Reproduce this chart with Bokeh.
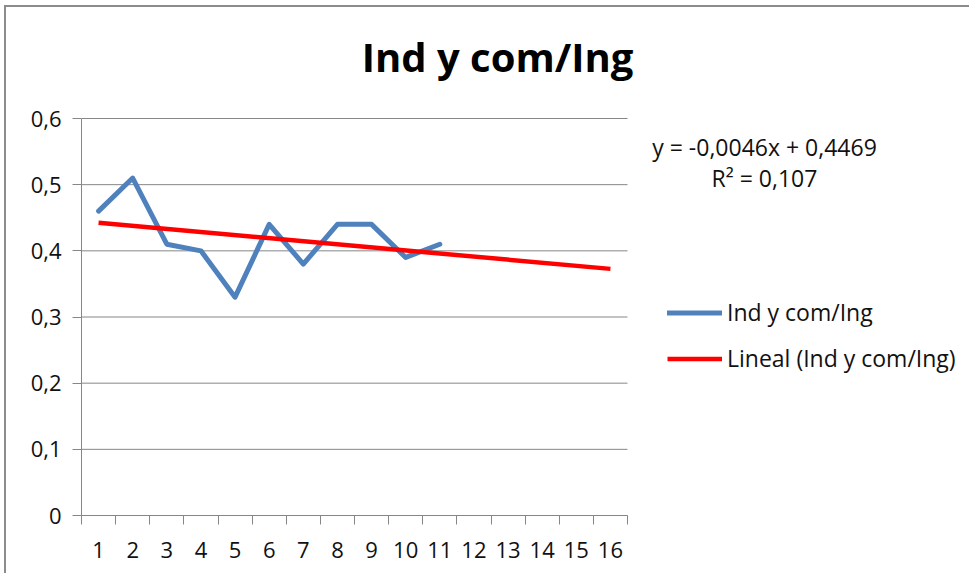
import numpy as np
from bokeh.plotting import figure
from bokeh.models import (FixedTicker, CustomJSTickFormatter, Label, Legend,
                          LegendItem, Range1d)
from bokeh.embed import file_html
from bokeh.resources import INLINE

# ---------------- data ----------------
title_text = "Ind y com/Ing"
series_name = "Ind y com/Ing"
trend_name = "Lineal (Ind y com/Ing)"
categories = list(range(1, 17))
periods = [1, 2, 3, 4, 5, 6, 7, 8, 9, 10, 11]
values = [0.46, 0.51, 0.41, 0.40, 0.33, 0.44, 0.38, 0.44, 0.44, 0.39, 0.41]
y_ticks = [0, 0.1, 0.2, 0.3, 0.4, 0.5, 0.6]
trend_forward = 5

# linear trend (as Excel's "Lineal" trendline)
slope, intercept = np.polyfit(periods, values, 1)
fitted = np.polyval([slope, intercept], periods)
ss_res = float(np.sum((np.array(values) - fitted) ** 2))
ss_tot = float(np.sum((np.array(values) - np.mean(values)) ** 2))
r2 = 1 - ss_res / ss_tot
trend_x = [periods[0], periods[-1] + trend_forward]
trend_y = [slope * x + intercept for x in trend_x]
eq_text = f"y = {slope:.4f}x + {intercept:.4f}".replace(".", ",")
r2_text = f"R\u00b2 = {r2:.3f}".replace(".", ",")

# ---------------- layout helpers (page pixels -> data) ----------------
OX, OY = 6, 7                 # canvas origin on page (after margin + 2px border)
F_L, F_B = 81, 515            # plot-area left / bottom on page
P_R, P_T = 627, 118           # right end of category axis, top gridline
W, H = 965, 568
X0, X1 = categories[0] - 0.5, categories[-1] + 0.5
Y0, Y1 = y_ticks[0], y_ticks[-1]


def xd(px):
    return X0 + (px - F_L) * (X1 - X0) / (P_R - F_L)


def yd(py):
    return Y0 + (F_B - py) * (Y1 - Y0) / (F_B - P_T)


FONT = "Open Sans"
GRAY = "#868686"
TXT = "#111111"

p = figure(width=W, height=H, output_backend="svg", toolbar_location=None,
           x_range=Range1d(X0, xd(OX + W)), y_range=Range1d(Y0, yd(OY)),
           min_border_left=F_L - OX, min_border_right=0,
           min_border_top=0, min_border_bottom=H - (F_B - OY))
p.styles = {"margin-left": "4px", "margin-top": "5px",
            "border-left": "2px solid #8c8c8c", "border-top": "2px solid #8c8c8c"}
p.outline_line_color = None
p.background_fill_color = "white"
p.border_fill_color = "white"
p.xgrid.visible = False
p.ygrid.visible = False

# horizontal gridlines, limited to the plot area
p.segment(x0=X0, x1=X1, y0=y_ticks, y1=y_ticks, line_color=GRAY, line_width=1)

# x axis
boundaries = [c - 0.5 for c in categories] + [categories[-1] + 0.5]
p.xaxis.bounds = (X0, X1)
p.xaxis.ticker = FixedTicker(ticks=categories, minor_ticks=boundaries)
p.xaxis.major_tick_line_color = None
p.xaxis.major_tick_out = 0
p.xaxis.major_tick_in = 0
p.xaxis.minor_tick_out = 9
p.xaxis.minor_tick_in = 0
p.xaxis.minor_tick_line_color = GRAY
p.xaxis.axis_line_color = GRAY
p.xaxis.major_label_standoff = 17
p.xaxis.major_label_text_font = FONT
p.xaxis.major_label_text_font_size = "22px"
p.xaxis.major_label_text_color = TXT

# y axis
p.yaxis.bounds = (Y0, Y1)
p.yaxis.ticker = FixedTicker(ticks=y_ticks)
p.yaxis.formatter = CustomJSTickFormatter(
    code="return tick == 0 ? '0' : tick.toFixed(1).replace('.', ',');")
p.yaxis.major_tick_out = 9
p.yaxis.major_tick_in = 0
p.yaxis.major_tick_line_color = GRAY
p.yaxis.minor_tick_line_color = None
p.yaxis.axis_line_color = GRAY
p.yaxis.major_label_standoff = 11
p.yaxis.major_label_text_font = FONT
p.yaxis.major_label_text_font_size = "22px"
p.yaxis.major_label_text_color = TXT

# series
blue = p.line(periods, values, line_color="#4F81BD", line_width=5,
              line_join="round", line_cap="round")
red = p.line(trend_x, trend_y, line_color="#FF0000", line_width=4.5,
             line_cap="butt")

# title
p.add_layout(Label(x=xd(497), y=yd(56), text=title_text, text_align="center",
                   text_baseline="middle", text_font=FONT,
                   text_font_style="bold", text_font_size="40px",
                   text_color="#000000"))

# trendline equation
p.add_layout(Label(x=xd(764), y=yd(146), text=eq_text, text_align="center",
                   text_baseline="middle", text_font=FONT,
                   text_font_size="23px", text_color=TXT))
p.add_layout(Label(x=xd(764), y=yd(177), text=r2_text, text_align="center",
                   text_baseline="middle", text_font=FONT,
                   text_font_size="23px", text_color=TXT))

# legend
legend = Legend(items=[LegendItem(label=series_name, renderers=[blue]),
                       LegendItem(label=trend_name, renderers=[red])],
                location=(667 - F_L, F_B - OY - 367.5), padding=0, margin=0,
                spacing=13, glyph_width=55, glyph_height=33,
                label_height=33, label_standoff=5,
                label_text_font=FONT, label_text_font_size="23px",
                label_text_color=TXT, border_line_color=None,
                background_fill_alpha=0)
p.add_layout(legend)

open("out.html", "w").write(file_html(p, INLINE))
